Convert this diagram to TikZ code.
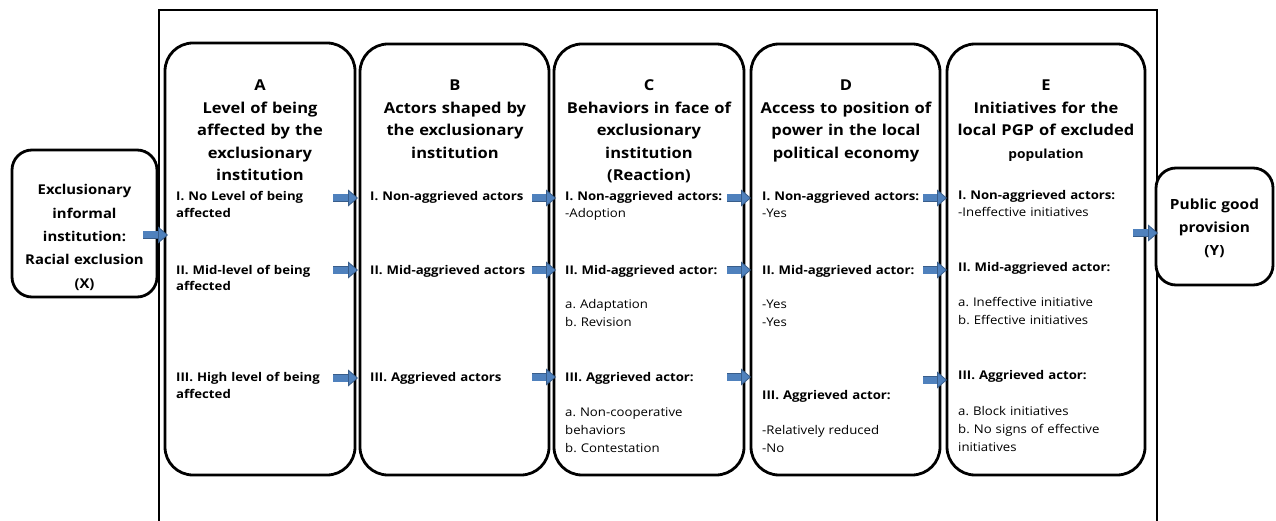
\documentclass[tikz,border=0pt]{standalone}
\usepackage{fontspec}
\setmainfont[FakeStretch=1.1]{Open Sans}
\usetikzlibrary{arrows.meta}
\definecolor{ablue}{RGB}{79,129,189}
\definecolor{adark}{RGB}{56,93,138}
\frenchspacing
\begin{document}
\begin{tikzpicture}[x=1pt,y=-1pt,
  colbox/.style={draw=black, line width=2.8pt, rounded corners=28pt, fill=white, inner sep=0pt},
  endbox/.style={draw=black, line width=2.8pt, rounded corners=20pt, fill=white, inner sep=0pt},
  head/.style={font=\bfseries\fontsize{15}{22.5}\selectfont, align=center, anchor=base, inner sep=0pt},
  item/.style={font=\bfseries\fontsize{12}{17}\selectfont, align=left, text width=185pt, anchor=base west, inner sep=0pt},
  sub/.style={font=\fontsize{12}{18}\selectfont, align=left, text width=185pt, anchor=base west, inner sep=0pt},
  barrow/.style={draw=ablue, line width=7pt,
    preaction={draw=adark, line width=8.5pt, shorten >=8pt, -},
    -{Triangle[length=10pt, width=17pt, fill=ablue, color=adark, line width=0.8pt]}}
]
\useasboundingbox (0,0) rectangle (1276,521);
% outer frame
\draw[line width=2.5pt] (159,535) -- (159,10) -- (1157,10) -- (1157,535);

% boxes
\node[endbox, minimum width=145pt, minimum height=147pt] (X) at (84.5,223.5) {};
\node[colbox, minimum width=190pt, minimum height=432pt] (A) at (260,259) {};
\node[colbox, minimum width=189pt, minimum height=431pt] (B) at (454.5,259.5) {};
\node[colbox, minimum width=190pt, minimum height=431pt] (C) at (649,259.5) {};
\node[colbox, minimum width=189pt, minimum height=431pt] (D) at (845.5,259.5) {};
\node[colbox, minimum width=198pt, minimum height=431pt] (E) at (1046,259.5) {};
\node[endbox, minimum width=117pt, minimum height=117pt] (Y) at (1214.5,226.5) {};

% end box texts
\node[head, text width=145pt, font=\bfseries\fontsize{13.5}{23.3}\selectfont] (Xt) at (84.5,195) {Exclusionary\\informal\\institution:\\Racial exclusion\\(X)};
\node[head, text width=117pt, font=\bfseries\fontsize{14}{23}\selectfont] (Yt) at (1214.5,210) {Public good\\provision\\(Y)};

% headers
\node[head, text width=190pt] (Ah) at (260,91) {A\\Level of being\\affected by the\\exclusionary\\institution};
\node[head, text width=190pt] (Bh) at (455,91) {B\\Actors shaped by\\the exclusionary\\institution};
\node[head, text width=190pt] (Ch) at (649,91) {C\\Behaviors in face of\\exclusionary\\institution\\(Reaction)};
\node[head, text width=190pt] (Dh) at (846,91) {D\\Access to position of\\power in the local\\political economy};
\node[head, text width=198pt] (Eh) at (1046,91) {E\\Initiatives for the\\local PGP of excluded\\{\fontsize{12.5}{22.5}\selectfont population}};

% column A
\node[item] (A1) at (176,201) {I. No Level of being\\affected};
\node[item] (A2) at (176,274) {II. Mid-level of being\\affected};
\node[item] (A3) at (176,381) {III. High level of being\\affected};
% column B
\node[item] (B1) at (370,201) {I. Non-aggrieved actors};
\node[item] (B2) at (370,274) {II. Mid-aggrieved actors};
\node[item] (B3) at (370,381) {III. Aggrieved actors};
% column C
\node[item] (C1) at (565,201) {I. Non-aggrieved actors:};
\node[sub] (C1s) at (565,218) {-Adoption};
\node[item] (C2) at (565,274) {II. Mid-aggrieved actor:};
\node[sub] (C2s) at (565,308) {a. Adaptation\\b. Revision};
\node[item] (C3) at (565,381) {III. Aggrieved actor:};
\node[sub] (C3s) at (565,416) {a. Non-cooperative\\behaviors\\b. Contestation};
% column D
\node[item] (D1) at (762,201) {I. Non-aggrieved actors:};
\node[sub] (D1s) at (762,218) {-Yes};
\node[item] (D2) at (762,274) {II. Mid-aggrieved actor:};
\node[sub] (D2s) at (762,308) {-Yes\\-Yes};
\node[item] (D3) at (762,399) {III. Aggrieved actor:};
\node[sub] (D3s) at (762,434) {-Relatively reduced\\-No};
% column E
\node[item] (E1) at (958,200) {I. Non-aggrieved actors:};
\node[sub] (E1s) at (958,217) {-Ineffective initiatives};
\node[item] (E2) at (958,272) {II. Mid-aggrieved actor:};
\node[sub] (E2s) at (958,306) {a. Ineffective initiative\\b. Effective initiatives};
\node[item] (E3) at (958,379) {III. Aggrieved actor:};
\node[sub] (E3s) at (958,415) {a. Block initiatives\\b. No signs of effective\\initiatives};

% arrow end points
\coordinate (x0) at (143,235); \coordinate (x1) at (168,235);
\coordinate (ab1) at (333,198); \coordinate (ab1e) at (358,198);
\coordinate (ab2) at (333,270); \coordinate (ab2e) at (358,270);
\coordinate (ab3) at (333,378); \coordinate (ab3e) at (358,378);
\coordinate (bc1) at (532,198); \coordinate (bc1e) at (556,198);
\coordinate (bc2) at (532,270); \coordinate (bc2e) at (556,270);
\coordinate (bc3) at (532,377); \coordinate (bc3e) at (556,377);
\coordinate (cd1) at (727,198); \coordinate (cd1e) at (751,198);
\coordinate (cd2) at (727,270); \coordinate (cd2e) at (751,270);
\coordinate (cd3) at (727,377); \coordinate (cd3e) at (751,377);
\coordinate (de1) at (923,198); \coordinate (de1e) at (947,198);
\coordinate (de2) at (923,270); \coordinate (de2e) at (947,270);
\coordinate (de3) at (923,380); \coordinate (de3e) at (947,380);
\coordinate (y0) at (1133,233); \coordinate (y1) at (1158,233);

\draw[barrow] (x0) -- (x1);
\draw[barrow] (ab1) -- (ab1e);
\draw[barrow] (ab2) -- (ab2e);
\draw[barrow] (ab3) -- (ab3e);
\draw[barrow] (bc1) -- (bc1e);
\draw[barrow] (bc2) -- (bc2e);
\draw[barrow] (bc3) -- (bc3e);
\draw[barrow] (cd1) -- (cd1e);
\draw[barrow] (cd2) -- (cd2e);
\draw[barrow] (cd3) -- (cd3e);
\draw[barrow] (de1) -- (de1e);
\draw[barrow] (de2) -- (de2e);
\draw[barrow] (de3) -- (de3e);
\draw[barrow] (y0) -- (y1);
\end{tikzpicture}
\end{document}
